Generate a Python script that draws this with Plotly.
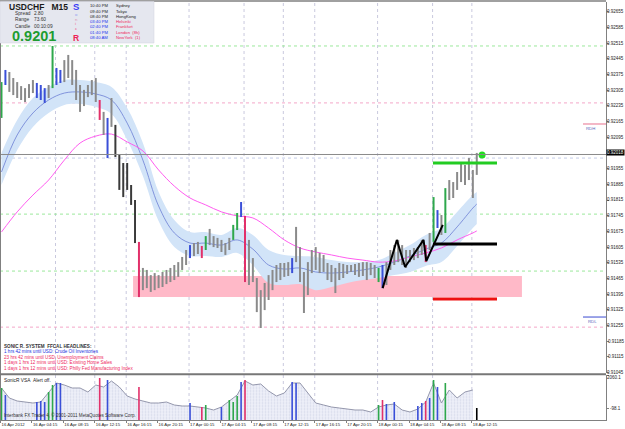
import plotly.graph_objects as go

W, H = 625, 429
FONT = "Liberation Sans, Arial, sans-serif"

# ---------------- data ----------------
# USDCHF, 30-minute bars (16 Apr 2012 00:00 ->)
bar_high = [0.92341, 0.92395, 0.92386, 0.92359, 0.92341, 0.92323, 0.92314, 0.92332, 0.92350, 0.92337,
            0.92328, 0.92314, 0.92328, 0.92502, 0.92404, 0.92395, 0.92439, 0.92462, 0.92439, 0.92395,
            0.92328, 0.92306, 0.92328, 0.92350, 0.92359, 0.92261, 0.92208, 0.92181, 0.92270, 0.92150,
            0.92016, 0.91980, 0.91980, 0.91882, 0.91815, 0.91628, 0.91512, 0.91503, 0.91480, 0.91489,
            0.91480, 0.91494, 0.91503, 0.91512, 0.91525, 0.91538, 0.91561, 0.91592, 0.91614, 0.91623,
            0.91628, 0.91610, 0.91654, 0.91686, 0.91654, 0.91646, 0.91637, 0.91623, 0.91646, 0.91704,
            0.91757, 0.91806, 0.91744, 0.91637, 0.91556, 0.91467, 0.91413, 0.91445, 0.91480, 0.91503,
            0.91525, 0.91534, 0.91534, 0.91538, 0.91556, 0.91695, 0.91605, 0.91494, 0.91538, 0.91592,
            0.91605, 0.91579, 0.91570, 0.91534, 0.91525, 0.91512, 0.91534, 0.91530, 0.91525, 0.91525,
            0.91530, 0.91534, 0.91538, 0.91538, 0.91534, 0.91525, 0.91512, 0.91525, 0.91538, 0.91592,
            0.91614, 0.91637, 0.91614, 0.91592, 0.91592, 0.91601, 0.91605, 0.91637, 0.91614, 0.91668,
            0.91828, 0.91770, 0.91748, 0.91868, 0.91904, 0.91895, 0.91940, 0.91980, 0.91971, 0.92002,
            0.91949, 0.92025]
bar_low = [0.92181, 0.92328, 0.92297, 0.92283, 0.92270, 0.92261, 0.92252, 0.92270, 0.92292, 0.92270,
           0.92261, 0.92248, 0.92270, 0.92314, 0.92328, 0.92337, 0.92341, 0.92359, 0.92328, 0.92261,
           0.92208, 0.92234, 0.92274, 0.92283, 0.92252, 0.92172, 0.92105, 0.92002, 0.92141, 0.92007,
           0.91860, 0.91828, 0.91860, 0.91793, 0.91623, 0.91382, 0.91413, 0.91422, 0.91405, 0.91413,
           0.91422, 0.91427, 0.91440, 0.91449, 0.91458, 0.91472, 0.91503, 0.91525, 0.91556, 0.91565,
           0.91574, 0.91556, 0.91592, 0.91614, 0.91605, 0.91601, 0.91583, 0.91570, 0.91592, 0.91637,
           0.91681, 0.91739, 0.91449, 0.91436, 0.91449, 0.91315, 0.91244, 0.91324, 0.91369, 0.91413,
           0.91449, 0.91458, 0.91472, 0.91476, 0.91489, 0.91538, 0.91449, 0.91311, 0.91391, 0.91489,
           0.91503, 0.91489, 0.91494, 0.91458, 0.91449, 0.91400, 0.91458, 0.91467, 0.91485, 0.91494,
           0.91480, 0.91472, 0.91476, 0.91458, 0.91480, 0.91467, 0.91449, 0.91422, 0.91436, 0.91503,
           0.91525, 0.91538, 0.91525, 0.91512, 0.91538, 0.91547, 0.91556, 0.91570, 0.91538, 0.91592,
           0.91628, 0.91690, 0.91659, 0.91668, 0.91815, 0.91824, 0.91860, 0.91895, 0.91882, 0.91904,
           0.91824, 0.91927]
# VSA bar class: g=neutral, d=dark, b=blue, G=green, r=red
bar_kind = ("Gbgggggggb" "bbgGbbgggg" "gggggrgbgd" "dddddrgggg" "ggggggggbg"
            "grGggggggG" "Gbrggggggg" "ggggbggggg" "gggggggggg" "ggggggGbgg"
            "ggggggggrg" "GbgGgggggg" "gg")

# moving averages (Sonic R dragon band + trend), sampled at these 30-min bar numbers
ma_bar = [0, 4, 8, 12, 16, 20, 24, 28, 32, 36, 40, 44, 48, 52, 56, 60,
          64, 68, 72, 76, 80, 84, 88, 92, 96, 100, 104, 108, 112, 116, 120, 121]
dragon_high = [0.92025, 0.92172, 0.92270, 0.92319, 0.92350, 0.92350, 0.92341, 0.92319, 0.92225, 0.92069,
               0.91851, 0.91726, 0.91672, 0.91672, 0.91659, 0.91690, 0.91659, 0.91592, 0.91570, 0.91565,
               0.91561, 0.91547, 0.91538, 0.91538, 0.91547, 0.91579, 0.91614, 0.91659, 0.91690, 0.91762,
               0.91837, 0.91851]
dragon_mid = [0.91940, 0.92105, 0.92203, 0.92261, 0.92292, 0.92297, 0.92288, 0.92261, 0.92158, 0.91993,
              0.91788, 0.91668, 0.91623, 0.91623, 0.91614, 0.91637, 0.91596, 0.91525, 0.91507, 0.91512,
              0.91494, 0.91489, 0.91494, 0.91503, 0.91516, 0.91538, 0.91565, 0.91596, 0.91623, 0.91695,
              0.91779, 0.91797]
dragon_low = [0.91882, 0.92038, 0.92141, 0.92203, 0.92239, 0.92243, 0.92230, 0.92199, 0.92083, 0.91922,
              0.91721, 0.91605, 0.91565, 0.91565, 0.91561, 0.91579, 0.91525, 0.91445, 0.91436, 0.91440,
              0.91413, 0.91427, 0.91445, 0.91458, 0.91467, 0.91480, 0.91494, 0.91521, 0.91538, 0.91610,
              0.91690, 0.91708]
trend_ma = [0.91672, 0.91762, 0.91837, 0.91904, 0.91993, 0.92069, 0.92100, 0.92109, 0.92074, 0.92034,
            0.91949, 0.91877, 0.91824, 0.91793, 0.91762, 0.91744, 0.91735, 0.91690, 0.91637, 0.91601,
            0.91583, 0.91570, 0.91556, 0.91547, 0.91538, 0.91543, 0.91561, 0.91579, 0.91601, 0.91637,
            0.91668, 0.91677]

# SonicR VSA sub-window: volume line every second 30-min bar, and signal bars
vol_bar = list(range(0, 121, 2))
vol_val = [1210, 556, 360, 294, 229, 294, 948, 1537, 1406, 1210,
           1210, 948, 1406, 1275, 1668, 1275, 687, 490, 360, 229,
           229, 294, 98, 33, 33, -33, -98, -229, -33, 360,
           752, 1668, 1406, 1472, 1014, 687, 883, 1537, 1537, 883,
           229, 98, -33, -98, -164, -229, -229, -360, -33, 98,
           164, -229, -360, -164, 294, 1537, 229, 1079, 556, 948, 1079]
vsa_bar = [0, 1, 9, 10, 11, 12, 13, 14, 15, 25, 27, 35, 48, 51, 52, 56, 58, 59, 60, 61, 62,
           74, 75, 96, 97, 98, 100, 106, 107, 108, 109, 110, 111, 113, 121]
vsa_val = [1210, 752, 294, 360, 294, 948, 1406, 1537, 1537, 1864, 1733, 1275, 229, -33, 98, -33, 425, 294, 687, 1603, 1733,
           1603, 1537, 98, 425, 164, 294, 33, 229, 360, 556, 1733, 1275, 1537, -98]
vsa_kind = "GbbbbGGbbrbrbrGbGGGbrbbGrbbbbrbGbGk"

# drawn objects (time in M15 bars, price)
zone_t = [67.5, 265.5]
zone_p = [0.91382, 0.91476]
zigzag_t = [194.6, 201.8, 206.0, 215.4, 216.8, 225.2]
zigzag_p = [0.91422, 0.91637, 0.91516, 0.91637, 0.91543, 0.91704]
lvl_t = [220.2, 252.8]
lvl_black, lvl_green, lvl_red = 0.91619, 0.91980, 0.91373
dot_t, dot_p = 245.2, 0.92016
bid_price = 0.92018
ask_price = 0.92002
pivots_green = [0.92502, 0.91752, 0.91498]
pivots_pink = [0.92248, 0.91248]
rdh, rdl = 0.92154, 0.91293
sessions = [28, 48, 64, 96, 124, 144, 160, 192, 220, 240]

price_ticks = [0.92655, 0.92585, 0.92515, 0.92445, 0.92375, 0.92305, 0.92235, 0.92165,
               0.92095, 0.92025, 0.91955, 0.91885, 0.91815, 0.91745, 0.91675, 0.91605,
               0.91535, 0.91465, 0.91395, 0.91325, 0.91255, 0.91185, 0.91115, 0.91045]
time_tick_bar = [0, 16, 32, 48, 64, 80, 96, 112, 128, 144, 160, 176, 192, 208, 224, 240]
time_tick_text = ["16 Apr 2012", "16 Apr 04:15", "16 Apr 08:15", "16 Apr 12:15", "16 Apr 16:15",
                  "16 Apr 20:15", "17 Apr 00:15", "17 Apr 04:15", "17 Apr 08:15", "17 Apr 12:15",
                  "17 Apr 16:15", "17 Apr 20:15", "18 Apr 00:15", "18 Apr 04:15", "18 Apr 08:15",
                  "18 Apr 12:15"]
vol_ticks = [2060.1, -98.1]

headlines = [("SONIC R. SYSTEM  FFCAL HEADLINES:", "#333333"),
             ("1 hrs 42 mins until USD: Crude Oil Inventories", "#2233dd"),
             ("23 hrs 42 mins until USD: Unemployment Claims", "#ee2a5e"),
             ("1 days 1 hrs 12 mins until USD: Existing Home Sales", "#ee2a5e"),
             ("1 days 1 hrs 12 mins until USD: Philly Fed Manufacturing Index", "#ee2a5e")]
clock_times = ["10:40 PM", "09:40 PM", "08:40 PM", "03:40 PM", "02:40 PM", "01:40 PM", "08:40 AM"]
clock_cities = ["Sydney", "Tokyo", "HongKong", "Helsinki", "Frankfurt", "London  (8h)", "NewYork  (1)"]

# ---------------- helpers ----------------
def t30(j):            # 30-min bar number -> M15 bar position (bar centre)
    return 2 * j + 0.5

def px(x):
    return x / W

def py(y):
    return 1 - y / H

KIND_COL = {"g": "#8a8a8a", "d": "#3a3a3a", "b": "#3a4fd8", "G": "#2ea84c", "r": "#e2306a", "k": "#000000"}
VOL_FLOOR = -882.9

def segments(ts, lows, highs):
    xs, ys = [], []
    for t, lo, hi in zip(ts, lows, highs):
        xs += [t, t, None]
        ys += [lo, hi, None]
    return xs, ys

fig = go.Figure()

# dragon band
ma_t = [t30(j) for j in ma_bar]
fig.add_trace(go.Scatter(x=ma_t, y=dragon_high, mode="lines", line=dict(width=0, shape="spline"),
                         hoverinfo="skip"))
fig.add_trace(go.Scatter(x=ma_t, y=dragon_low, mode="lines", line=dict(width=0, shape="spline"),
                         fill="tonexty", fillcolor="#d2e4f8", hoverinfo="skip"))
fig.add_trace(go.Scatter(x=ma_t, y=dragon_mid, mode="lines",
                         line=dict(color="#6c7fd4", width=0.8, shape="spline")))
fig.add_trace(go.Scatter(x=ma_t, y=trend_ma, mode="lines",
                         line=dict(color="#ff5cf0", width=1, shape="spline")))

# price bars (high-low), one trace per VSA colour
for kind, col in KIND_COL.items():
    idx = [j for j, k in enumerate(bar_kind) if k == kind]
    if not idx:
        continue
    xs, ys = segments([t30(j) for j in idx], [bar_low[j] for j in idx], [bar_high[j] for j in idx])
    fig.add_trace(go.Scatter(x=xs, y=ys, mode="lines", line=dict(color=col, width=2.0)))

# zigzag + levels
fig.add_trace(go.Scatter(x=zigzag_t, y=zigzag_p, mode="lines", line=dict(color="black", width=2)))
for lv, c in ((lvl_black, "black"), (lvl_green, "#22cc22"), (lvl_red, "#ee1111")):
    fig.add_trace(go.Scatter(x=lvl_t, y=[lv, lv], mode="lines", line=dict(color=c, width=3)))
fig.add_trace(go.Scatter(x=[dot_t], y=[dot_p], mode="markers",
                         marker=dict(color="#22dd22", size=7)))

# VSA sub window
vt = [t30(j) for j in vol_bar]
fig.add_trace(go.Scatter(x=vt, y=[VOL_FLOOR] * len(vt), mode="lines", line=dict(width=0),
                         xaxis="x2", yaxis="y2", hoverinfo="skip"))
fig.add_trace(go.Scatter(x=vt, y=vol_val, mode="lines", line=dict(color="#9497ac", width=1),
                         fill="tonexty", fillcolor="#eceef8",
                         fillpattern=dict(shape=".", bgcolor="#eef0f9", fgcolor="#c0c4dc", size=3, solidity=0.3),
                         xaxis="x2", yaxis="y2"))
for kind, col in KIND_COL.items():
    idx = [i for i, k in enumerate(vsa_kind) if k == kind]
    if not idx:
        continue
    xs, ys = segments([t30(vsa_bar[i]) for i in idx], [VOL_FLOOR] * len(idx), [vsa_val[i] for i in idx])
    fig.add_trace(go.Scatter(x=xs, y=ys, mode="lines", line=dict(color=col, width=1.6),
                             xaxis="x2", yaxis="y2"))

# ---------------- shapes ----------------
shapes = []
for s in sessions:
    shapes.append(dict(type="line", xref="x", yref="paper", x0=s, x1=s, y0=py(420), y1=py(2),
                       line=dict(color="#c9c9de", width=1, dash="dot"), layer="below"))
shapes.append(dict(type="rect", xref="x", yref="y", x0=zone_t[0], x1=zone_t[1], y0=zone_p[0], y1=zone_p[1],
                   fillcolor="#ffb9c8", line=dict(width=0), layer="below"))
for p in pivots_green:
    shapes.append(dict(type="line", xref="x domain", yref="y", x0=0, x1=1, y0=p, y1=p,
                       line=dict(color="#9be89b", width=1, dash="dot"), layer="below"))
for p in pivots_pink:
    shapes.append(dict(type="line", xref="x domain", yref="y", x0=0, x1=1, y0=p, y1=p,
                       line=dict(color="#f4a6c8", width=1, dash="dot"), layer="below"))
shapes.append(dict(type="line", xref="x domain", yref="y", x0=0, x1=1, y0=ask_price, y1=ask_price,
                   line=dict(color="#c4cce8", width=1, dash="dot"), layer="below"))
shapes.append(dict(type="line", xref="x domain", yref="y", x0=0, x1=1, y0=bid_price, y1=bid_price,
                   line=dict(color="#8a8a8a", width=1)))
shapes.append(dict(type="line", xref="x domain", yref="y", x0=0.962, x1=1, y0=rdh, y1=rdh,
                   line=dict(color="#f0a0b4", width=1.5)))
shapes.append(dict(type="line", xref="x domain", yref="y", x0=0.962, x1=1, y0=rdl, y1=rdl,
                   line=dict(color="#7b86e0", width=1.5)))
# frame
shapes.append(dict(type="line", xref="paper", yref="paper", x0=0, x1=px(606), y0=py(1), y1=py(1),
                   line=dict(color="#808080", width=1.5)))
shapes.append(dict(type="line", xref="paper", yref="paper", x0=px(0.5), x1=px(0.5), y0=py(420), y1=py(1),
                   line=dict(color="#808080", width=1)))
shapes.append(dict(type="line", xref="paper", yref="paper", x0=0, x1=px(606), y0=py(374.2), y1=py(374.2),
                   line=dict(color="#777777", width=2)))
# info panel
shapes.append(dict(type="rect", xref="paper", yref="paper", x0=0, x1=px(154), y0=py(43), y1=py(1.5),
                   fillcolor="#e5e7ef", line=dict(color="#d0d3de", width=0.5), layer="above"))

# ---------------- annotations ----------------
ann = []

def text(x, y, s, size=5, color="#222222", bold=False, bg=None, yref="paper", anchor="left"):
    d = dict(x=px(x), y=py(y) if yref == "paper" else y, xref="paper", yref=yref,
             text=("<b>%s</b>" % s) if bold else s,
             showarrow=False, xanchor=anchor, yanchor="middle", borderpad=0,
             font=dict(family=FONT, size=size, color=color))
    if bg:
        d.update(bgcolor=bg)
    ann.append(d)

text(8, 7, "USDCHF   M15", 8.5, "#1a1a1a", True)
for i, (k, v) in enumerate((("Spread", "2.80"), ("Range", "73.60"), ("Candle", "00:10:09"))):
    text(14, 13.5 + 6.3 * i, k, 4.8, "#333333")
    text(33, 13.5 + 6.3 * i, v, 4.8, "#333333")
text(11, 35.5, "0.9201", 14.5, "#1e9c30", True)
text(72, 6.5, "S", 9.5, "#3b3bf5", True)
for i, (ch, c) in enumerate((("o", "#8c96f0"), ("n", "#d890b0"), ("i", "#ee6a8c"), ("c", "#ee4a78"))):
    text(74, 14.5 + 4.7 * i, ch, 4.3, c)
text(72, 38, "R", 8.5, "#ee2255", True)
for i, (tm, ct) in enumerate(zip(clock_times, clock_cities)):
    c1 = "#222222" if i < 3 else "#2233ee"
    c2 = "#222222" if i < 3 else "#ee2a5e"
    text(89, 6 + 5.2 * i, tm, 4.2, c1)
    text(115, 6 + 5.2 * i, ct, 4.2, c2)

for i, (s, c) in enumerate(headlines):
    text(2.5, 346 + 5.6 * i, s, 4.6, c, i == 0)

text(3, 380.5, "SonicR VSA", 4.8, "#222222")
text(32, 380.5, "Alert off.", 4.8, "#222222")
text(2.5, 414.5, "Interbank FX Trader 4, \u00a9 2001-2011 MetaQuotes Software Corp.", 4.6, "#333333")

# price scale labels, right-aligned in the 19 px strip beside the axis
shown_ticks = [v for v in price_ticks if abs(v - bid_price) > 0.0002]
for v in shown_ticks:
    text(624.5, v, "%.5f" % v, 4.5, "#222222", yref="y", anchor="right")
text(624.5, 152.5, "%.5f" % bid_price, 4.5, "white", False, "black", anchor="right")
text(585, 128, "RDH", 4.3, "#5566bb")
text(587, 321, "RDL", 4.3, "#5566bb")
# sub-window scale labels
text(622, 377.5, "%.1f" % vol_ticks[0], 4.5, "#222222", anchor="right")
text(622, 408, "%.1f" % vol_ticks[1], 4.5, "#222222", anchor="right")

fig.update_layout(
    width=W, height=H, margin=dict(l=0, r=0, t=0, b=0, autoexpand=False), autosize=False,
    paper_bgcolor="white", plot_bgcolor="white", showlegend=False,
    hovermode=False, font=dict(family=FONT, size=5, color="#222222"),
    shapes=shapes, annotations=ann,
    xaxis=dict(domain=[0, px(606)], range=[-0.255, 308.3], showticklabels=False, showgrid=False,
               zeroline=False, showline=False, ticks="", anchor="y", automargin=False),
    yaxis=dict(domain=[py(373), py(2)], range=[0.910434, 0.926981], side="right", anchor="x",
               tickvals=price_ticks, showticklabels=False,
               ticks="outside", ticklen=2, tickcolor="#808080", showline=True, linecolor="#808080",
               linewidth=1, showgrid=False, zeroline=False, automargin=False),
    xaxis2=dict(domain=[0, px(606)], range=[-0.255, 308.3], matches="x", anchor="y2",
                tickvals=time_tick_bar, ticktext=time_tick_text, ticklabelposition="outside right",
                tickangle=0, ticks="outside", ticklen=2, tickcolor="#808080", showline=True,
                linecolor="#808080", showgrid=False, zeroline=False, automargin=False,
                tickfont=dict(size=4.3, color="#222222")),
    yaxis2=dict(domain=[py(420), py(374.5)], range=[VOL_FLOOR, 2092.8], side="right", anchor="x2",
                tickvals=vol_ticks, showticklabels=False,
                ticks="outside", ticklen=2, tickcolor="#808080", showline=True, linecolor="#808080",
                showgrid=False, zeroline=False, automargin=False),
)

fig.write_html("out.html")
